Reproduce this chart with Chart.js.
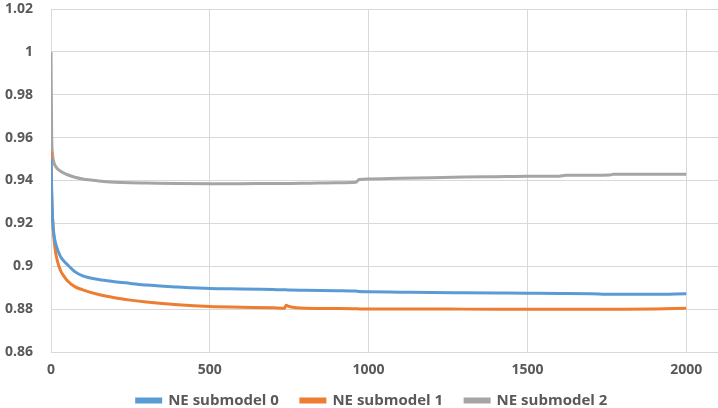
<!DOCTYPE html>
<html>
<head>
<meta charset="utf-8">
<script src="https://cdn.jsdelivr.net/npm/chart.js@4/dist/chart.umd.min.js"></script>
<style>
  html, body { margin: 0; padding: 0; background: #fff; }
  #wrap { width: 718px; height: 408px; }
</style>
</head>
<body>
<div id="wrap"><canvas id="chart" width="718" height="408"></canvas></div>
<script>
// iteration (x) values
const iterations = [0, 2, 5, 10, 15, 20, 30, 40, 50, 75, 100, 150, 200, 250, 300, 400, 500, 600, 700, 735,
  740, 750, 800, 900, 960, 970, 1000, 1100, 1200, 1300, 1400, 1500, 1600, 1620, 1700, 1760, 1770, 1800, 1900, 2000];

const submodel0 = [0.95, 0.935, 0.922, 0.914, 0.9105, 0.908, 0.9045, 0.9025, 0.901, 0.8975, 0.8955, 0.8938, 0.8928, 0.892, 0.8912, 0.8903, 0.8896, 0.8894, 0.8891,
  0.889, 0.889, 0.8889, 0.8888, 0.8886, 0.8884, 0.8882, 0.8881, 0.8879, 0.8877, 0.8876, 0.8875, 0.8874, 0.8873, 0.8873, 0.8872, 0.8869, 0.8869, 0.8869, 0.8869, 0.8872];

const submodel1 = [0.9535, 0.935, 0.922, 0.912, 0.906, 0.9025, 0.898, 0.8955, 0.8935, 0.8905, 0.889, 0.8868, 0.8853, 0.8842, 0.8833, 0.882, 0.8812, 0.8809, 0.8806, 0.8804,
  0.8818, 0.8812, 0.8804, 0.8803, 0.8802, 0.8801, 0.8801, 0.8801, 0.8801, 0.88, 0.88, 0.88, 0.88, 0.88, 0.88, 0.88, 0.88, 0.88, 0.8801, 0.8804];

const submodel2 = [1.0, 0.962, 0.952, 0.948, 0.9465, 0.9455, 0.9443, 0.9435, 0.9428, 0.9415, 0.9407, 0.9398, 0.9392, 0.9389, 0.9388, 0.9386, 0.9385, 0.9385, 0.9386, 0.9386,
  0.9386, 0.9386, 0.9387, 0.939, 0.9392, 0.9405, 0.9407, 0.941, 0.9413, 0.9416, 0.9418, 0.942, 0.942, 0.9424, 0.9425, 0.9426, 0.9429, 0.9429, 0.9429, 0.9429];

const seriesNames = ["NE submodel 0", "NE submodel 1", "NE submodel 2"];
const seriesColors = ["#5B9BD5", "#ED7D31", "#A5A5A5"];

const yTicks = [0.86, 0.88, 0.9, 0.92, 0.94, 0.96, 0.98, 1, 1.02];
const xTicks = [0, 500, 1000, 1500, 2000];

const textColor = "#595959";
const gridColor = "#d9d9d9";
const font = { family: "'Open Sans', sans-serif", size: 14, weight: "bold" };

function toPoints(ys) {
  return ys.map((y, i) => ({ x: iterations[i], y: y }));
}

const datasets = [submodel0, submodel1, submodel2].map((ys, i) => ({
  label: seriesNames[i],
  data: toPoints(ys),
  borderColor: seriesColors[i],
  backgroundColor: seriesColors[i],
  borderWidth: 3,
  pointRadius: 0,
  cubicInterpolationMode: "monotone",
  fill: false,
}));

// move the legend up and a bit right so it sits under the plot like the original
const legendShift = {
  id: "legendShift",
  afterLayout(chart) {
    chart.legend.left += 26;
    chart.legend.top -= 13;
  },
};

const ctx = document.getElementById("chart");
new Chart(ctx, {
  type: "line",
  data: { datasets: datasets },
  plugins: [legendShift],
  options: {
    responsive: false,
    animation: false,
    layout: { padding: { top: 9, right: 0, left: 0, bottom: 0 } },
    scales: {
      x: {
        type: "linear",
        min: 0,
        max: 2100,
        afterBuildTicks(scale) {
          scale.ticks = xTicks.map((v) => ({ value: v }));
        },
        afterFit(scale) {
          scale.height = 32;
          scale.paddingLeft = 0;
          scale.paddingRight = 0;
        },
        grid: { color: gridColor, drawTicks: false },
        border: { color: gridColor },
        ticks: {
          color: textColor,
          font: font,
          padding: 10,
          maxRotation: 0,
          callback: (v) => String(v),
        },
      },
      y: {
        min: 0.86,
        max: 1.02,
        afterBuildTicks(scale) {
          scale.ticks = yTicks.map((v) => ({ value: v }));
        },
        afterFit(scale) {
          scale.width = 51;
          scale.paddingTop = 0;
          scale.paddingBottom = 0;
        },
        grid: { color: gridColor, drawTicks: false },
        border: { color: gridColor },
        ticks: {
          color: textColor,
          font: font,
          padding: 18,
          callback: (v) => String(Number(v.toFixed(2))),
        },
      },
    },
    plugins: {
      tooltip: { enabled: false },
      legend: {
        position: "bottom",
        maxHeight: 24,
        labels: {
          color: textColor,
          font: { family: "'Open Sans', sans-serif", size: 15, weight: "bold" },
          boxWidth: 24,
          boxHeight: 3,
          padding: 22,
        },
      },
    },
  },
});
</script>
</body>
</html>
